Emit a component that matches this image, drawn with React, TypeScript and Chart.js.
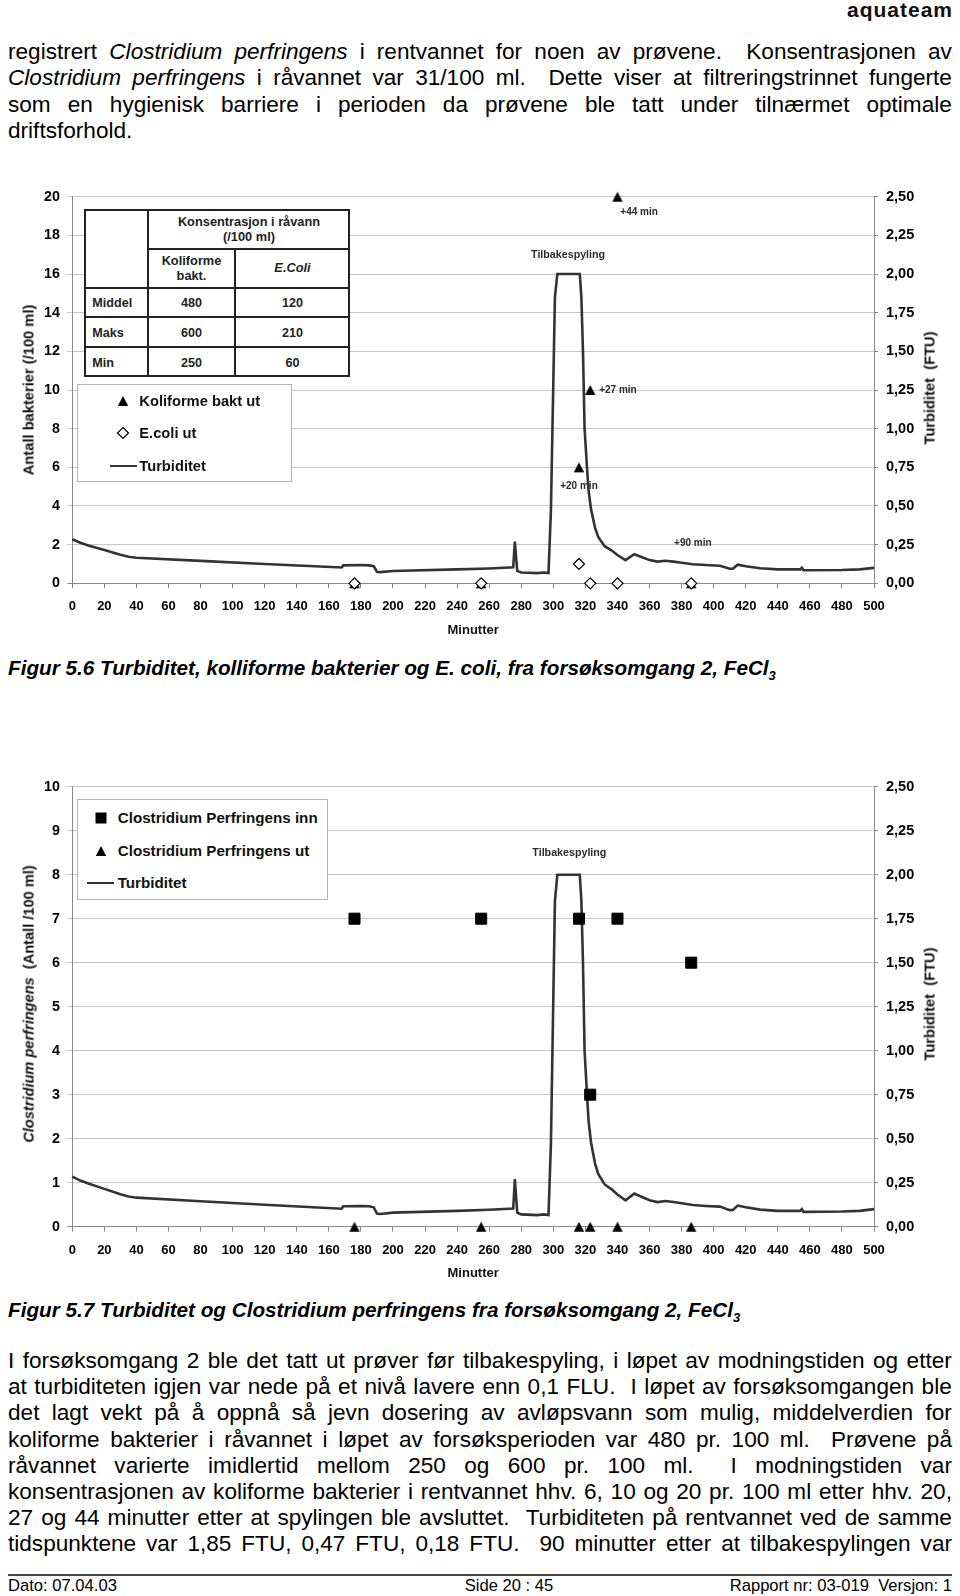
import React, { useEffect, useRef } from "react";
import { Chart, registerables } from "chart.js";

Chart.register(...registerables);

const FONT = "'Liberation Sans', Arial, Helvetica, sans-serif";
Chart.defaults.font.family = FONT;
Chart.defaults.color = "#000";

// ---------------- data ----------------
// Turbidity (FTU) on the clean water, minutes since start (shared by both figures)
const turbMinutes = [0, 5, 10, 20, 30, 35, 40, 80, 120, 168, 169, 180, 185, 188, 190, 192, 200, 240, 260, 275, 276, 277.5, 280, 290, 294, 297, 298.5, 301, 302.5, 316.5, 317.5, 318.5, 319.5, 321, 322, 323.5, 326, 328, 332, 336, 340, 345, 350.5, 355, 360, 365, 370, 375, 380, 387, 395, 404, 410, 412, 415, 420, 429, 440, 454, 455, 456, 480, 491, 500];
const turbFTU = [0.285, 0.262, 0.245, 0.215, 0.185, 0.172, 0.165, 0.145, 0.125, 0.102, 0.116, 0.118, 0.116, 0.11, 0.075, 0.072, 0.08, 0.09, 0.096, 0.103, 0.27, 0.08, 0.07, 0.066, 0.07, 0.066, 0.47, 1.85, 2.0, 2.0, 1.85, 1.5, 1.0, 0.75, 0.6, 0.48, 0.36, 0.3, 0.24, 0.215, 0.183, 0.15, 0.188, 0.17, 0.15, 0.14, 0.146, 0.14, 0.133, 0.123, 0.118, 0.114, 0.094, 0.095, 0.12, 0.11, 0.097, 0.09, 0.09, 0.1, 0.084, 0.086, 0.09, 0.1];

// Sampling times (minutes)
const sampleMinutes = [176, 255, 316, 323, 340, 386];
// Figur 5.6
const koliformeUt = [0, 0, 6, 10, 20, 0];
const ecoliUt = [0, 0, 1, 0, 0, 0];
// Figur 5.7
const clostridiumInn = [7, 7, 7, 3, 7, 6];
const clostridiumUt = [0, 0, 0, 0, 0, 0];

const ftuTickLabels = ["0,00", "0,25", "0,50", "0,75", "1,00", "1,25", "1,50", "1,75", "2,00", "2,25", "2,50"];

const notesFig56 = [
  { x: 353.5, y: 19.2, text: "+44 min", align: "center", size: 10 },
  { x: 309.2, y: 17.0, text: "Tilbakespyling", align: "center", size: 10.7 },
  { x: 328.6, y: 10.0, text: "+27 min", align: "left", size: 10 },
  { x: 316, y: 5.0, text: "+20 min", align: "center", size: 10 },
  { x: 387, y: 2.08, text: "+90 min", align: "center", size: 10 },
];
const notesFig57 = [{ x: 310, y: 8.49, text: "Tilbakespyling", align: "center", size: 10.7 }];

// ---------------- chart helpers ----------------
function triangleStyle() {
  const c = document.createElement("canvas");
  c.width = 12;
  c.height = 12;
  const g = c.getContext("2d") as CanvasRenderingContext2D;
  g.fillStyle = "#000";
  g.beginPath();
  g.moveTo(6, 1);
  g.lineTo(11.2, 11);
  g.lineTo(0.8, 11);
  g.closePath();
  g.fill();
  return c;
}

function notesPlugin(notes: any[]) {
  return {
    id: "notes",
    beforeDatasetsDraw(chart: any) {
      const { ctx, scales } = chart;
      ctx.save();
      ctx.fillStyle = "#2a2a2a";
      ctx.textBaseline = "middle";
      for (const n of notes) {
        ctx.font = `bold ${n.size}px ${FONT}`;
        ctx.textAlign = n.align;
        ctx.fillText(n.text, scales.x.getPixelForValue(n.x), scales.y.getPixelForValue(n.y));
      }
      ctx.restore();
    },
  };
}

const pts = (xs: number[], ys: number[]) => xs.map((x, i) => ({ x, y: ys[i] }));

function makeConfig(p: any): any {
  return {
    type: "scatter",
    data: {
      datasets: [
        ...p.markers,
        {
          label: "Turbiditet",
          data: pts(turbMinutes, turbFTU),
          yAxisID: "y2",
          showLine: true,
          borderColor: "#333",
          borderWidth: 2.6,
          pointRadius: 0,
          tension: 0,
          clip: false,
        },
      ],
    },
    options: {
      responsive: false,
      animation: false,
      devicePixelRatio: 1,
      events: [],
      layout: { padding: { top: p.topPad, left: 0, right: 0, bottom: 0 } },
      plugins: { legend: { display: false }, tooltip: { enabled: false } },
      scales: {
        x: {
          type: "linear",
          min: 0,
          max: 500,
          afterFit: (s: any) => {
            s.height = p.xHeight;
          },
          ticks: { stepSize: 20, maxTicksLimit: 40, autoSkip: false, maxRotation: 0, padding: 10.5, font: { size: 13, weight: "bold" }, color: "#000" },
          grid: { drawOnChartArea: false, drawTicks: true, tickLength: 5, color: "#888" },
          border: { display: true, color: "#888", width: 1 },
          title: { display: true, text: "Minutter", font: { size: 13, weight: "bold" }, color: "#111", padding: { top: 0, bottom: p.xTitlePad } },
        },
        y: {
          position: "left",
          min: 0,
          max: p.leftMax,
          afterFit: (s: any) => {
            s.width = 72.3;
          },
          ticks: { stepSize: p.leftStep, maxTicksLimit: 40, padding: 7.3, font: { size: 14.3, weight: "bold" }, color: "#000" },
          grid: {
            drawOnChartArea: true,
            tickLength: 5,
            color: (c: any) => (c.tick && c.tick.value === 0 ? "#888" : "#c6c6c6"),
          },
          border: { display: true, color: "#888", width: 1 },
        },
        y2: {
          position: "right",
          min: 0,
          max: 2.5,
          afterFit: (s: any) => {
            s.width = 86;
          },
          ticks: {
            stepSize: 0.25,
            maxTicksLimit: 40,
            padding: 8,
            font: { size: 14.5, weight: "bold" },
            color: "#000",
            callback: (_v: any, i: number) => ftuTickLabels[i],
          },
          grid: { drawOnChartArea: false, tickLength: 4, color: "#888" },
          border: { display: true, color: "#888", width: 1 },
        },
      },
    },
    plugins: [notesPlugin(p.notes)],
  };
}

const fig56Config = () =>
  makeConfig({
    leftMax: 20,
    leftStep: 2,
    topPad: 15.7,
    xHeight: 66.7,
    xTitlePad: 12.2,
    notes: notesFig56,
    markers: [
      { label: "E.coli ut", data: pts(sampleMinutes, ecoliUt), pointStyle: "rectRot", pointRadius: 5.5, backgroundColor: "#fff", borderColor: "#000", borderWidth: 1.2, clip: false },
      { label: "Koliforme bakt ut", data: pts(sampleMinutes, koliformeUt), pointStyle: triangleStyle(), pointRadius: 6, backgroundColor: "#000", borderColor: "#000", clip: false },
    ],
  });

const fig57Config = () =>
  makeConfig({
    leftMax: 10,
    leftStep: 1,
    topPad: 13.3,
    xHeight: 63.3,
    xTitlePad: 8.7,
    notes: notesFig57,
    markers: [
      { label: "Clostridium Perfringens inn", data: pts(sampleMinutes, clostridiumInn), pointStyle: "rect", pointRadius: 7.8, backgroundColor: "#000", borderColor: "#000", borderWidth: 1, clip: false },
      { label: "Clostridium Perfringens ut", data: pts(sampleMinutes, clostridiumUt), pointStyle: triangleStyle(), pointRadius: 6, backgroundColor: "#000", borderColor: "#000", clip: false },
    ],
  });

function ChartCanvas({ config, top, height }: any) {
  const ref = useRef<HTMLCanvasElement>(null);
  useEffect(() => {
    const chart = new Chart(ref.current as HTMLCanvasElement, config());
    return () => chart.destroy();
  }, []);
  return <canvas ref={ref} width={960} height={height} style={{ position: "absolute", left: 0, top, width: 960, height }} />;
}

// ---------------- html helpers ----------------
const Txt = ({ x, y, children, size, bold = true, italic = false, anchor = "center", color = "#222" }: any) => (
  <div
    style={{
      position: "absolute",
      left: x,
      top: y,
      transform: anchor === "center" ? "translate(-50%,-50%)" : "translate(0,-50%)",
      fontSize: size,
      fontWeight: bold ? 700 : 400,
      fontStyle: italic ? "italic" : "normal",
      color,
      whiteSpace: "pre",
      lineHeight: 1.15,
    }}
  >
    {children}
  </div>
);

const VTitle = ({ x, y, children, size }: any) => (
  <div
    style={{
      position: "absolute",
      left: x,
      top: y,
      transform: "translate(-50%,-50%) rotate(-90deg)",
      fontSize: size,
      fontWeight: 700,
      whiteSpace: "pre",
      lineHeight: 1.15,
      color: "#111",
    }}
  >
    {children}
  </div>
);

const Marker = ({ kind, cx, cy }: any) => {
  let el: any = null;
  if (kind === "tri") el = <polygon points="7,2 12.2,12 1.8,12" fill="#000" />;
  if (kind === "sq") el = <rect x={1.5} y={1.5} width={11} height={11} fill="#000" />;
  if (kind === "dia") el = <polygon points="7,1.5 12.5,7 7,12.5 1.5,7" fill="#fff" stroke="#000" strokeWidth={1.2} />;
  return (
    <svg width={14} height={14} style={{ position: "absolute", left: cx - 7, top: cy - 7 }}>
      {el}
    </svg>
  );
};

const HLine = ({ x1, x2, y, w = 2, color = "#222" }: any) => (
  <div style={{ position: "absolute", left: x1, top: y - w / 2, width: x2 - x1, height: w, background: color }} />
);
const VLine = ({ x, y1, y2, w = 2, color = "#222" }: any) => (
  <div style={{ position: "absolute", left: x - w / 2, top: y1, width: w, height: y2 - y1, background: color }} />
);

// One justified line: words spread across the column; a double space gives a double gap.
function JLine({ text, top }: any) {
  const words: { t: string; it: boolean }[] = [];
  text.split(" ").forEach((tok: string) => {
    if (tok === "") {
      words.push({ t: "", it: false });
      return;
    }
    const it = tok.startsWith("_");
    words.push({ t: it ? tok.slice(1) : tok, it });
  });
  return (
    <div
      style={{
        position: "absolute",
        left: 8,
        width: 944,
        top,
        height: 26.3,
        lineHeight: "26.3px",
        fontSize: 22.6,
        display: "flex",
        justifyContent: "space-between",
        whiteSpace: "pre",
        color: "#000",
      }}
    >
      {words.map((w, i) => (
        <span key={i} style={{ fontStyle: w.it ? "italic" : "normal" }}>
          {w.t}
        </span>
      ))}
    </div>
  );
}

const PlainLine = ({ text, top }: any) => (
  <div style={{ position: "absolute", left: 8, top, height: 26.3, lineHeight: "26.3px", fontSize: 22.6, whiteSpace: "pre", color: "#000" }}>{text}</div>
);

const topLines = [
  "registrert _Clostridium _perfringens i rentvannet for noen av prøvene.  Konsentrasjonen av",
  "_Clostridium _perfringens i råvannet var 31/100 ml.  Dette viser at filtreringstrinnet fungerte",
  "som en hygienisk barriere i perioden da prøvene ble tatt under tilnærmet optimale",
];
const bottomLines = [
  "I forsøksomgang 2 ble det tatt ut prøver før tilbakespyling, i løpet av modningstiden og etter",
  "at turbiditeten igjen var nede på et nivå lavere enn 0,1 FLU.  I løpet av forsøksomgangen ble",
  "det lagt vekt på å oppnå så jevn dosering av avløpsvann som mulig, middelverdien for",
  "koliforme bakterier i råvannet i løpet av forsøksperioden var 480 pr. 100 ml.  Prøvene på",
  "råvannet varierte imidlertid mellom 250 og 600 pr. 100 ml.  I modningstiden var",
  "konsentrasjonen av koliforme bakterier i rentvannet hhv. 6, 10 og 20 pr. 100 ml etter hhv. 20,",
  "27 og 44 minutter etter at spylingen ble avsluttet.  Turbiditeten på rentvannet ved de samme",
  "tidspunktene var 1,85 FTU, 0,47 FTU, 0,18 FTU.  90 minutter etter at tilbakespylingen var",
];

export default function App() {
  return (
    <div
      style={{
        position: "absolute",
        left: 0,
        top: 0,
        width: 960,
        height: 1596,
        overflow: "hidden",
        background: "#fff",
        fontFamily: FONT,
        color: "#000",
      }}
    >
      {/* header */}
      <div style={{ position: "absolute", right: 7, top: -1.5, fontSize: 21, lineHeight: "21px", fontWeight: 700, letterSpacing: 1, color: "#111" }}>aquateam</div>

      {topLines.map((t, i) => (
        <JLine key={i} text={t} top={39 + i * 26.4} />
      ))}
      <PlainLine text="driftsforhold." top={39 + 3 * 26.4} />

      {/* ---------- Figur 5.6 ---------- */}
      <ChartCanvas config={fig56Config} top={180} height={470} />
      <VTitle x={29} y={389.5} size={14.7}>Antall bakterier (/100 ml)</VTitle>
      <VTitle x={929.5} y={388} size={14.7}>{"Turbiditet  (FTU)"}</VTitle>

      {/* table */}
      <div style={{ position: "absolute", left: 83.5, top: 209, width: 266.5, height: 167.7, boxSizing: "border-box", border: "2px solid #222", background: "#fff" }} />
      <VLine x={148} y1={209} y2={376.7} />
      <VLine x={235} y1={249} y2={376.7} />
      <HLine x1={148} x2={350} y={249} />
      <HLine x1={83.5} x2={350} y={287.7} />
      <HLine x1={83.5} x2={350} y={317.3} />
      <HLine x1={83.5} x2={350} y={346.7} />
      <Txt x={249} y={221.7} size={12.8}>Konsentrasjon i råvann</Txt>
      <Txt x={249} y={237.3} size={12.8}>(/100 ml)</Txt>
      <Txt x={191.5} y={260.7} size={12.8}>Koliforme</Txt>
      <Txt x={191.5} y={276} size={12.8}>bakt.</Txt>
      <Txt x={292.5} y={268.3} size={12.8} italic>E.Coli</Txt>
      <Txt x={92.3} y={302.7} size={12.6} anchor="left">Middel</Txt>
      <Txt x={92.3} y={332.7} size={12.6} anchor="left">Maks</Txt>
      <Txt x={92.3} y={362.7} size={12.6} anchor="left">Min</Txt>
      <Txt x={191.5} y={302.7} size={12.6}>480</Txt>
      <Txt x={191.5} y={332.7} size={12.6}>600</Txt>
      <Txt x={191.5} y={362.7} size={12.6}>250</Txt>
      <Txt x={292.5} y={302.7} size={12.6}>120</Txt>
      <Txt x={292.5} y={332.7} size={12.6}>210</Txt>
      <Txt x={292.5} y={362.7} size={12.6}>60</Txt>

      {/* legend fig 5.6 */}
      <div style={{ position: "absolute", left: 77, top: 384, width: 215, height: 97.7, boxSizing: "border-box", border: "1px solid #b4b4b4", background: "#fff" }} />
      <Marker kind="tri" cx={123.3} cy={401} />
      <Txt x={139.3} y={401} size={14.7} anchor="left" color="#111">Koliforme bakt ut</Txt>
      <Marker kind="dia" cx={123.3} cy={433.3} />
      <Txt x={139.3} y={433.3} size={14.7} anchor="left" color="#111">E.coli ut</Txt>
      <HLine x1={110} x2={136.7} y={465.7} w={2.4} color="#333" />
      <Txt x={139.3} y={465.7} size={14.7} anchor="left" color="#111">Turbiditet</Txt>

      <div style={{ position: "absolute", left: 8, top: 656, fontSize: 20.7, lineHeight: "24px", fontWeight: 700, fontStyle: "italic", whiteSpace: "pre", color: "#000" }}>
        Figur 5.6 Turbiditet, kolliforme bakterier og E. coli, fra forsøksomgang 2, FeCl
        <span style={{ fontSize: 13, position: "relative", top: 5 }}>3</span>
      </div>

      {/* ---------- Figur 5.7 ---------- */}
      <ChartCanvas config={fig57Config} top={770} height={520} />
      <VTitle x={29} y={1004} size={14.6}>
        <i>Clostridium perfringens</i>
        {"  (Antall /100 ml)"}
      </VTitle>
      <VTitle x={929.5} y={1004} size={14.7}>{"Turbiditet  (FTU)"}</VTitle>

      <div style={{ position: "absolute", left: 76.7, top: 799.3, width: 251.6, height: 100.7, boxSizing: "border-box", border: "1px solid #b4b4b4", background: "#fff" }} />
      <Marker kind="sq" cx={101} cy={817.7} />
      <Txt x={117.7} y={817.7} size={15.2} anchor="left" color="#111">Clostridium Perfringens inn</Txt>
      <Marker kind="tri" cx={101} cy={851} />
      <Txt x={117.7} y={851} size={15.2} anchor="left" color="#111">Clostridium Perfringens ut</Txt>
      <HLine x1={87.3} x2={114.3} y={883.3} w={2.4} color="#333" />
      <Txt x={117.7} y={883.3} size={15.2} anchor="left" color="#111">Turbiditet</Txt>

      <div style={{ position: "absolute", left: 8, top: 1298, fontSize: 20.7, lineHeight: "24px", fontWeight: 700, fontStyle: "italic", whiteSpace: "pre", color: "#000" }}>
        Figur 5.7 Turbiditet og Clostridium perfringens fra forsøksomgang 2, FeCl
        <span style={{ fontSize: 13, position: "relative", top: 5 }}>3</span>
      </div>

      {bottomLines.map((t, i) => (
        <JLine key={i} text={t} top={1348 + i * 26.2} />
      ))}

      {/* footer */}
      <HLine x1={8} x2={952} y={1575} w={2} color="#444" />
      <div style={{ position: "absolute", left: 8, top: 1576, fontSize: 16.6, lineHeight: "20px", whiteSpace: "pre" }}>Dato: 07.04.03</div>
      <div style={{ position: "absolute", left: 509, top: 1576, transform: "translateX(-50%)", fontSize: 16.6, lineHeight: "20px", whiteSpace: "pre" }}>Side 20 : 45</div>
      <div style={{ position: "absolute", right: 8, top: 1576, fontSize: 16.6, lineHeight: "20px", whiteSpace: "pre" }}>{"Rapport nr: 03-019  Versjon: 1"}</div>
    </div>
  );
}
